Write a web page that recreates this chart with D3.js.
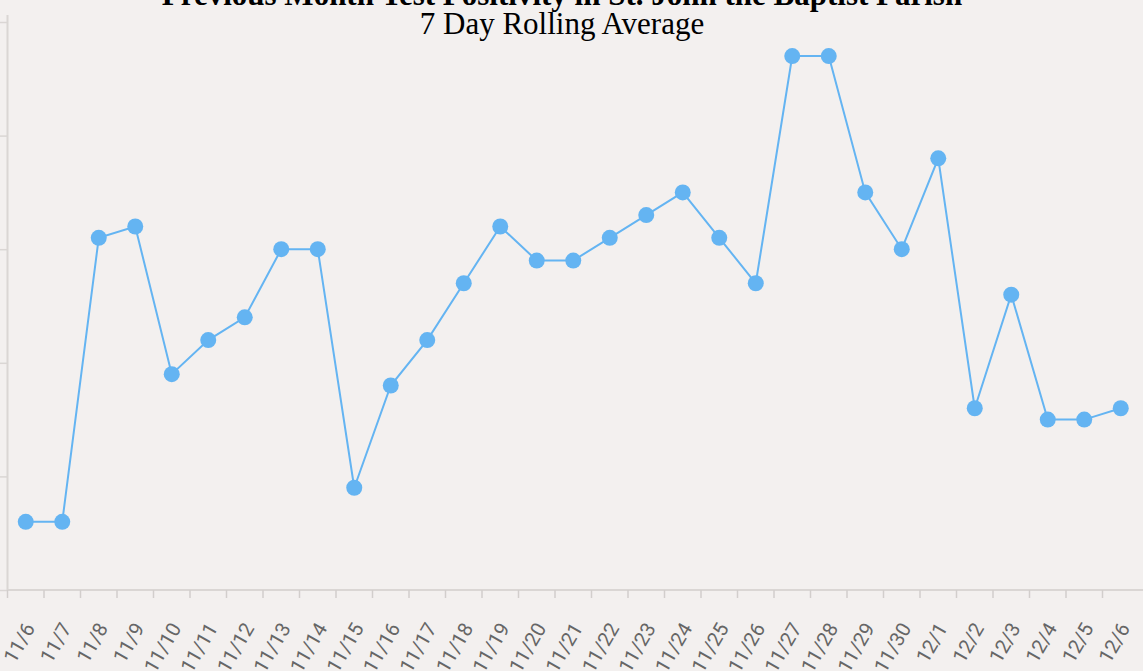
<!DOCTYPE html>
<html>
<head>
<meta charset="utf-8">
<script src="https://cdn.jsdelivr.net/npm/d3@7"></script>
<style>
  body { margin: 0; background: #f3f0ef; overflow: hidden; }
  svg { display: block; }
</style>
</head>
<body>
<script>
// 7 day rolling average, test positivity (%)
const dates = ['11/6','11/7','11/8','11/9','11/10','11/11','11/12','11/13','11/14','11/15',
  '11/16','11/17','11/18','11/19','11/20','11/21','11/22','11/23','11/24','11/25',
  '11/26','11/27','11/28','11/29','11/30','12/1','12/2','12/3','12/4','12/5','12/6'];
const positivity = [3.0, 3.0, 15.5, 16.0, 9.5, 11.0, 12.0, 15.0, 15.0, 4.5,
  9.0, 11.0, 13.5, 16.0, 14.5, 14.5, 15.5, 16.5, 17.5, 15.5,
  13.5, 23.5, 23.5, 17.5, 15.0, 19.0, 8.0, 13.0, 7.5, 7.5, 8.0];
const yTicks = [0, 5, 10, 15, 20, 25];
const titleLines = ['Previous Month Test Positivity in St. John the Baptist Parish', '7 Day Rolling Average'];

const W = 1143, H = 671;
const margin = { top: 22, right: 4, bottom: 81, left: 7.5 };
const width = W - margin.left - margin.right;
const height = H - margin.top - margin.bottom;

const svg = d3.select('body').append('svg')
    .attr('width', W)
    .attr('height', H);

svg.append('rect').attr('width', W).attr('height', H).attr('fill', '#f3f0ef');

const g = svg.append('g')
    .attr('transform', `translate(${margin.left}, ${margin.top})`);

const x = d3.scaleBand().domain(dates).range([0, width]).padding(0);
const y = d3.scaleLinear().domain([0, 25]).range([height, 0]);

// y axis: its labels sit off the left edge in the original, so none are drawn
const yAxis = g.append('g')
    .call(d3.axisLeft(y).tickValues(yTicks).tickFormat('').tickSize(8).tickSizeOuter(0));
yAxis.select('.domain').attr('stroke', '#dad6d4').attr('stroke-width', 2)
    .attr('d', `M0,${height}V-7`);
yAxis.selectAll('.tick line').attr('stroke', '#dad6d4').attr('stroke-width', 1.5);

// x axis with ticks at band edges
const xAxis = g.append('g')
    .attr('transform', `translate(0, ${height})`);
xAxis.append('line')
    .attr('x1', 0).attr('x2', width + margin.right)
    .attr('stroke', '#dad6d4').attr('stroke-width', 2);
xAxis.selectAll('.edge')
    .data(dates)
    .enter()
    .append('line')
    .attr('class', 'edge')
    .attr('x1', d => x(d)).attr('x2', d => x(d))
    .attr('y1', 0).attr('y2', 8)
    .attr('stroke', '#d2cecc').attr('stroke-width', 1.5);
xAxis.selectAll('.lbl')
    .data(dates)
    .enter()
    .append('text')
    .attr('class', 'lbl')
    .attr('text-anchor', 'end')
    .attr('transform', d => `translate(${x(d) + x.bandwidth() / 2 + 10}, 38) rotate(-60)`)
    .attr('fill', '#666')
    .style('font', '20px Roboto')
    .text(d => d);

// line + dots
const pts = dates.map((d, i) => ({ date: d, v: positivity[i] }));
const line = d3.line()
    .x(d => x(d.date) + x.bandwidth() / 2)
    .y(d => y(d.v));

g.append('path')
    .datum(pts)
    .attr('d', line)
    .attr('fill', 'none')
    .attr('stroke', '#64b4f2')
    .attr('stroke-width', 2);

g.selectAll('.dot')
    .data(pts)
    .enter()
    .append('circle')
    .attr('class', 'dot')
    .attr('cx', d => x(d.date) + x.bandwidth() / 2)
    .attr('cy', d => y(d.v))
    .attr('r', 8)
    .attr('fill', '#64b4f2');

// title
svg.append('text')
    .attr('x', 562).attr('y', 5)
    .attr('text-anchor', 'middle')
    .style('font', 'bold 31px "Liberation Serif"')
    .text(titleLines[0]);
svg.append('text')
    .attr('x', 562).attr('y', 34)
    .attr('text-anchor', 'middle')
    .style('font', '31px "Liberation Serif"')
    .text(titleLines[1]);
</script>
</body>
</html>
